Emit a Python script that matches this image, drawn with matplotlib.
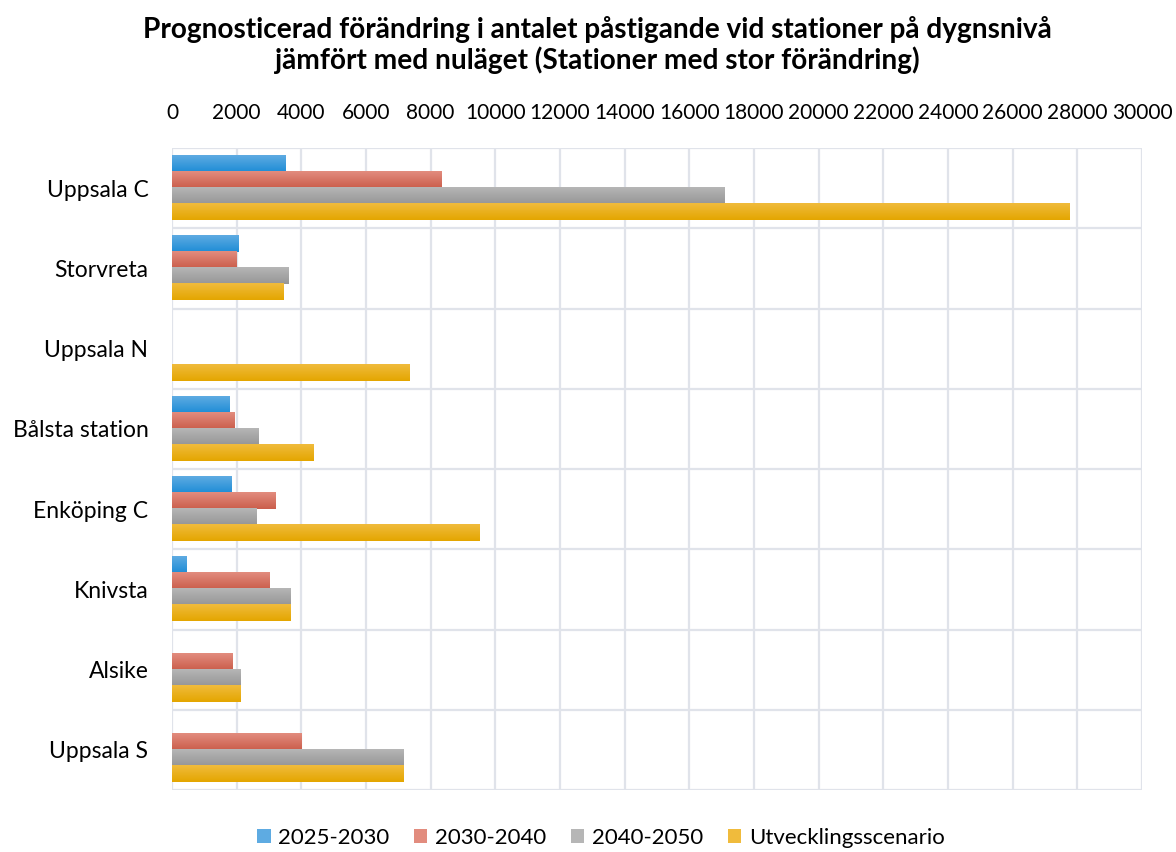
import numpy as np
import matplotlib.pyplot as plt
from matplotlib.colors import LinearSegmentedColormap
from matplotlib.patches import Patch

# data
stations = ['Uppsala C', 'Storvreta', 'Uppsala N', 'Bålsta station',
            'Enköping C', 'Knivsta', 'Alsike', 'Uppsala S']
p2025_2030 = [3500, 2070, 0, 1790, 1830, 460, 0, 0]
p2030_2040 = [8320, 1980, 0, 1920, 3190, 3030, 1860, 3990]
p2040_2050 = [17080, 3590, 0, 2690, 2600, 3650, 2130, 7150]
utveckling = [27750, 3460, 7360, 4390, 9500, 3650, 2130, 7150]
series_names = ['2025-2030', '2030-2040', '2040-2050', 'Utvecklingsscenario']

# (top colour, bottom colour) for the vertical gradient of each series
grads = [('#5eabe2', '#1f8dd6'), ('#e28c7e', '#cb5e4c'),
         ('#b6b6b6', '#969696'), ('#f0bb3c', '#e4a600')]

plt.rcParams['font.family'] = ['Lato', 'DejaVu Sans']
fig = plt.figure(figsize=(11.76, 8.52), dpi=100)
ax = fig.add_axes([172 / 1176, 62 / 852, 970 / 1176, 642 / 852])

y = np.arange(len(stations))
h = 0.2
all_series = [p2025_2030, p2030_2040, p2040_2050, utveckling]
for k, vals in enumerate(all_series):
    cmap = LinearSegmentedColormap.from_list('g%d' % k, grads[k])
    off = (k - 1.5) * h
    bars = ax.barh(y + off, vals, height=h, color=grads[k][1], linewidth=0, zorder=2)
    for b in bars:
        w = b.get_width()
        if w <= 0:
            continue
        y0 = b.get_y()
        grad = np.linspace(0, 1, 50).reshape(-1, 1)
        ax.imshow(grad, cmap=cmap, aspect='auto', origin='upper',
                  extent=[0, w, y0 + h, y0], zorder=3, interpolation='bilinear')

ax.set_xlim(0, 30000)
ax.set_ylim(len(stations) - 0.5, -0.5)
ax.set_xticks(np.arange(0, 30001, 2000))
ax.xaxis.tick_top()
ax.tick_params(axis='x', length=0, pad=18, labelsize=15)
ax.set_yticks(y)
ax.set_yticklabels(stations)
ax.tick_params(axis='y', length=0, pad=17, labelsize=16.5)
ax.set_yticks(np.arange(-0.5, len(stations)), minor=True)
ax.tick_params(axis='y', which='minor', length=0)
ax.grid(axis='x', color='#e0e3ea', linewidth=1.6, zorder=0)
ax.grid(axis='y', which='minor', color='#e0e3ea', linewidth=1.6, zorder=0)
ax.grid(axis='y', which='major', visible=False)
ax.set_axisbelow(True)
for s in ax.spines.values():
    s.set_visible(False)

fig.text(0.508, 0.947, 'Prognosticerad förändring i antalet påstigande vid stationer på dygnsnivå\n'
         'jämfört med nuläget (Stationer med stor förändring)',
         ha='center', va='center', fontsize=20.2, fontweight='bold', linespacing=1.15)

handles = [Patch(facecolor=grads[k][0], edgecolor='none') for k in range(4)]
fig.legend(handles, series_names, loc='center', bbox_to_anchor=(0.511, 0.0165), ncol=4,
           frameon=False, fontsize=16, handlelength=0.6, handleheight=0.6,
           handletextpad=0.35, columnspacing=1.1)

fig.savefig('out.png', dpi=100)
